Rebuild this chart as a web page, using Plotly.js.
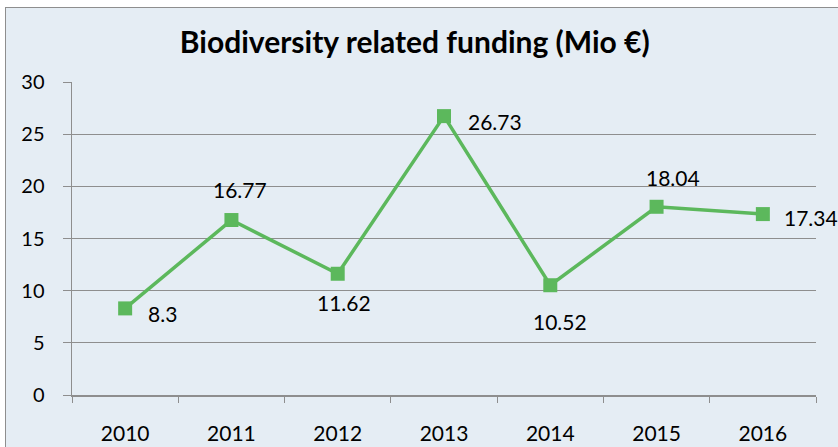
<!DOCTYPE html>
<html><head><meta charset="utf-8">
<script src="https://cdn.plot.ly/plotly-3.0.1.min.js"></script>
<style>
html,body{margin:0;padding:0;width:838px;height:447px;overflow:hidden;background:#fff;}
#bg{position:absolute;left:5px;top:7px;width:900px;height:500px;background:#e5edf4;border:1.5px solid #8e8e8e;}
#chart{position:absolute;left:0;top:0;width:838px;height:447px;}
</style></head>
<body>
<div id="bg"></div>
<div id="chart"></div>
<script>
const years = ['2010','2011','2012','2013','2014','2015','2016'];
const funding = [8.3, 16.77, 11.62, 26.73, 10.52, 18.04, 17.34];
const yTicks = [0,5,10,15,20,25,30];

// label placement (pixel offsets from each point)
const labelAnchor = ['left','center','center','left','center','center','left'];
const labelDx = [21, 9, 6, 22, 10, 16, 19];
const labelDy = [-5, 31, -29, -5, -36, 29, -3];

const FONT = 'Lato, sans-serif';
const trace = {
  x: years, y: funding, type:'scatter', mode:'lines+markers',
  line:{color:'#5cb85c', width:3.5},
  marker:{symbol:'square', size:14, color:'#5cb85c'},
  cliponaxis:false, hoverinfo:'none'
};
// on a category axis, annotations are positioned by category index
const annotations = years.map((yr,i)=>({
  x: i, y: funding[i], xref:'x', yref:'y', text: String(funding[i]), showarrow:false,
  xanchor: labelAnchor[i], yanchor:'middle', xshift: labelDx[i], yshift: labelDy[i],
  font:{family:FONT, size:21, color:'#000'}
}));
const layout = {
  width:838, height:447,
  margin:{l:72, r:22, t:82, b:52},
  paper_bgcolor:'rgba(0,0,0,0)', plot_bgcolor:'rgba(0,0,0,0)',
  showlegend:false,
  annotations: annotations,
  title:{text:'<b>Biodiversity related funding (Mio €)</b>', x:0.495, xanchor:'center', y:0.905, yanchor:'middle',
    font:{family:FONT, size:30, color:'#000'}},
  xaxis:{type:'category', range:[-0.5,6.5], tickson:'boundaries', ticks:'outside', ticklen:6, tickcolor:'#8e8e8e',
    showline:true, linecolor:'#8e8e8e', linewidth:1.5, showgrid:false, ticklabelstandoff:19,
    tickfont:{family:FONT, size:21, color:'#000'}},
  yaxis:{range:[0,30], tickvals:yTicks, ticks:'outside', ticklen:8, tickcolor:'#8e8e8e',
    showline:true, linecolor:'#8e8e8e', linewidth:1.5, gridcolor:'#8e8e8e', gridwidth:1, zeroline:false,
    tickfont:{family:FONT, size:20, color:'#000'}, ticklabelstandoff:14}
};
Plotly.newPlot('chart',[trace],layout,{staticPlot:true});
</script>
</body></html>
